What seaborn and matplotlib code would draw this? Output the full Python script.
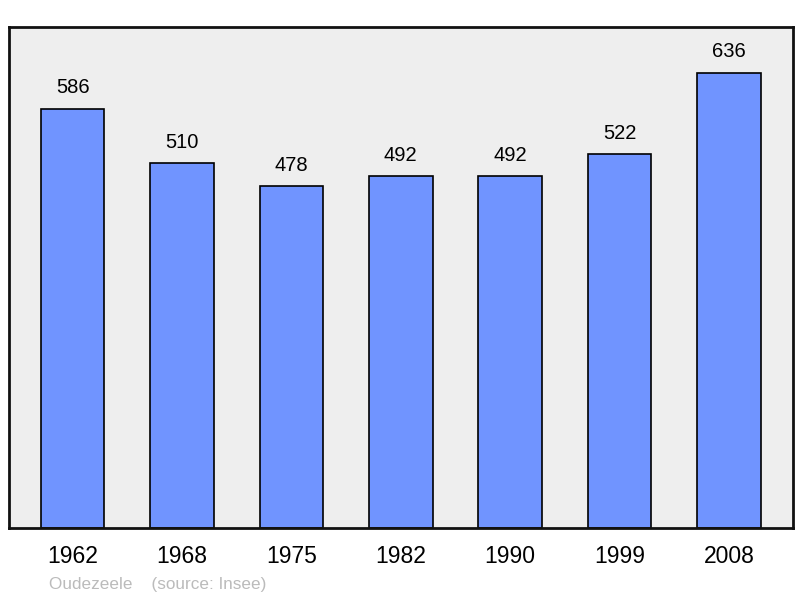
import matplotlib
matplotlib.use('Agg')
import matplotlib.pyplot as plt
import seaborn as sns
import pandas as pd

# data
years = ['1962', '1968', '1975', '1982', '1990', '1999', '2008']
population = [586, 510, 478, 492, 492, 522, 636]

df = pd.DataFrame({'year': years, 'pop': population})

sns.set_style('white')
plt.rcParams['font.family'] = ['Liberation Sans', 'DejaVu Sans']

fig = plt.figure(figsize=(8, 5.98), dpi=100)
ax = fig.add_axes([0.011, 0.117, 0.98, 0.838])
ax.set_facecolor('#eeeeee')

sns.barplot(data=df, x='year', y='pop', color='#7094ff', width=0.58,
            edgecolor='black', linewidth=1.2, saturation=1, ax=ax)

for i, v in enumerate(population):
    ax.text(i, v + 29, str(v), ha='center', va='center', fontsize=14.5, color='black')

ax.set_ylim(0, 700)
ax.set_xlim(-0.585, 6.585)
ax.set_yticks([])
ax.set_xlabel('')
ax.set_ylabel('')
ax.tick_params(axis='x', length=0, labelsize=16.5, pad=12, labelcolor='black')
for s in ax.spines.values():
    s.set_visible(True)
    s.set_color('#111111')
    s.set_linewidth(2)

fig.text(49 / 800, 1 - 584 / 598, 'Oudezeele    (source: Insee)', fontsize=12.3,
         color='#bbbbbb', ha='left', va='center')

fig.savefig('out.png', dpi=100)
